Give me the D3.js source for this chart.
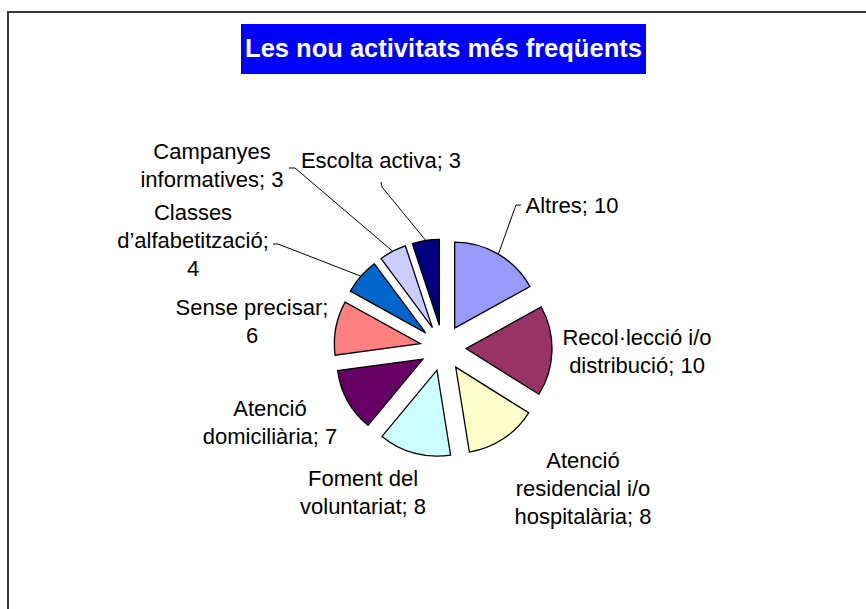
<!DOCTYPE html>
<html>
<head>
<meta charset="utf-8">
<script src="https://cdn.jsdelivr.net/npm/d3@7"></script>
<style>
  body { margin: 0; background: #fff; }
  svg { display: block; }
  text { font-family: "Liberation Sans", Arial, sans-serif; }
</style>
</head>
<body>
<svg id="viz" width="866" height="609"></svg>
<script>
// data
var categories = ["Altres", "Recol·lecció i/o distribució", "Atenció residencial i/o hospitalària",
	"Foment del voluntariat", "Atenció domiciliària", "Sense precisar",
	"Classes d’alfabetització", "Campanyes informatives", "Escolta activa"];
var values = [10, 10, 8, 8, 7, 6, 4, 3, 3];
var colors = ["#9999FF", "#993366", "#FFFFCC", "#CCFFFF", "#660066", "#FF8080", "#0066CC", "#CCCCFF", "#000080"];
var title = "Les nou activitats més freqüents";

// label placement (center x, first baseline, wrap width, leader start points)
var labelLayout = [
	{ x: 572, y: 213, w: 220, leader: [[521, 205], [516, 205]] },
	{ x: 637, y: 345, w: 160, leader: null },
	{ x: 583, y: 468, w: 145, leader: null },
	{ x: 363, y: 486, w: 135, leader: null },
	{ x: 270, y: 416, w: 140, leader: null },
	{ x: 252, y: 315, w: 160, leader: null },
	{ x: 193, y: 220, w: 160, leader: [[273, 244], [278, 244]] },
	{ x: 212, y: 159, w: 150, leader: [[289, 168], [295, 168]] },
	{ x: 381, y: 168, w: 220, leader: [[381, 182], [382, 187]] }
];

var width = 866, height = 609;
var center = { x: 443, y: 348 };
var radius = 86;
var explode = 23;
var lineHeight = 28;

var svg = d3.select("#viz");

// chart frame (only top and left edges are visible)
svg.append("rect")
	.attr("x", 8).attr("y", 12)
	.attr("width", 1000).attr("height", 1000)
	.attr("fill", "none")
	.attr("stroke", "#3a3a3a")
	.attr("stroke-width", 2);

// title box
var titleG = svg.append("g");
titleG.append("rect")
	.attr("x", 241).attr("y", 24)
	.attr("width", 405).attr("height", 50)
	.attr("fill", "#0000FF");
titleG.append("text")
	.attr("x", 443.5).attr("y", 57)
	.attr("text-anchor", "middle")
	.attr("font-size", "25.5px")
	.attr("font-weight", "bold")
	.attr("fill", "#fff")
	.text(title);

var pie = d3.pie().sort(null).value(function(d) { return d; });
var arcs = pie(values);

var arc = d3.arc().innerRadius(0).outerRadius(radius);
var edgeArc = d3.arc().innerRadius(radius).outerRadius(radius);

function offset(d) {
	var mid = (d.startAngle + d.endAngle) / 2;
	return [Math.sin(mid) * explode, -Math.cos(mid) * explode];
}

var g = svg.append("g")
	.attr("transform", "translate(" + center.x + "," + center.y + ")");

g.selectAll("path.slice")
	.data(arcs)
	.enter().append("path")
	.attr("class", "slice")
	.attr("transform", function(d) { var o = offset(d); return "translate(" + o[0] + "," + o[1] + ")"; })
	.attr("d", arc)
	.attr("fill", function(d, i) { return colors[i]; })
	.attr("stroke", "#000")
	.attr("stroke-width", 1.3)
	.attr("stroke-linejoin", "miter");

// leader lines
arcs.forEach(function(d, i) {
	var lay = labelLayout[i];
	if (!lay.leader) return;
	var o = offset(d);
	var c = edgeArc.centroid(d);
	var end = [center.x + o[0] + c[0], center.y + o[1] + c[1]];
	var pts = lay.leader.concat([end]);
	svg.append("path")
		.attr("d", d3.line()(pts))
		.attr("fill", "none")
		.attr("stroke", "#000")
		.attr("stroke-width", 1);
});

// labels
var measure = svg.append("text").attr("font-size", "22px").attr("visibility", "hidden");
function wrap(str, maxW) {
	var words = str.split(" ");
	var lines = [];
	var cur = "";
	words.forEach(function(w) {
		var test = cur ? cur + " " + w : w;
		measure.text(test);
		if (cur && measure.node().getComputedTextLength() > maxW) {
			lines.push(cur);
			cur = w;
		} else {
			cur = test;
		}
	});
	if (cur) lines.push(cur);
	return lines;
}

categories.forEach(function(cat, i) {
	var lay = labelLayout[i];
	var lines = wrap(cat + "; " + values[i], lay.w);
	var t = svg.append("text")
		.attr("font-size", "22px")
		.attr("fill", "#000")
		.attr("text-anchor", "middle");
	lines.forEach(function(l, j) {
		t.append("tspan")
			.attr("x", lay.x)
			.attr("y", lay.y + j * lineHeight)
			.text(l);
	});
});
measure.remove();
</script>
</body>
</html>
